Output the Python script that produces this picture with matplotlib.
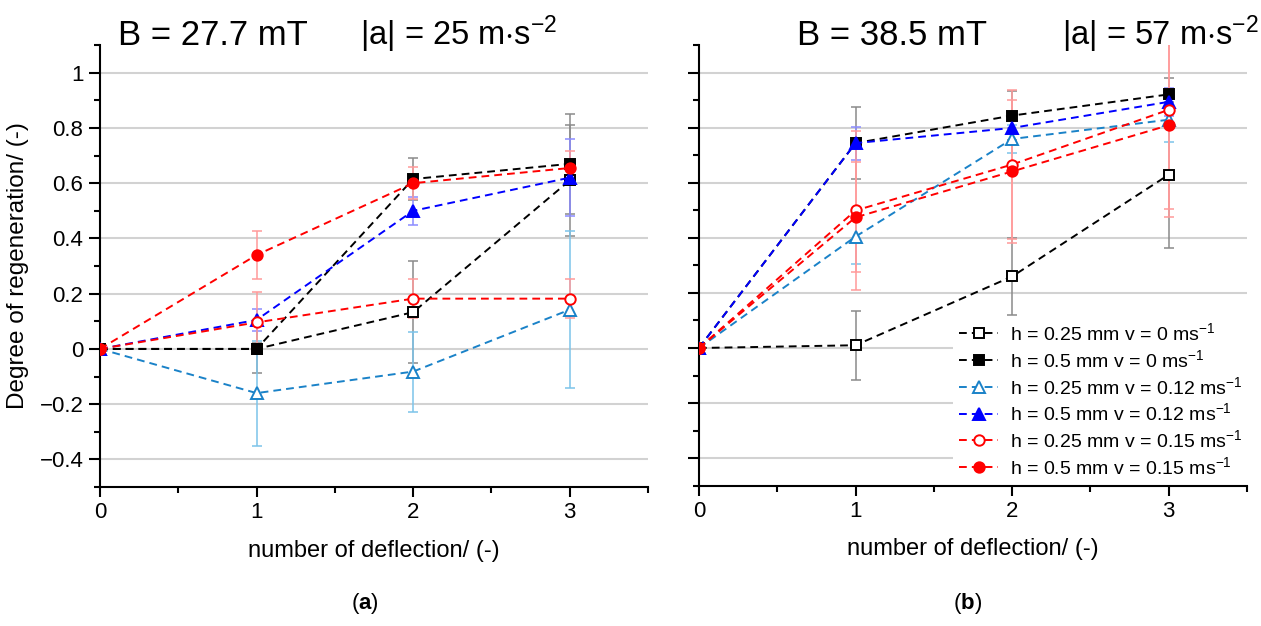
import matplotlib
matplotlib.use("Agg")
import matplotlib.pyplot as plt
from matplotlib.ticker import FixedLocator, MultipleLocator

plt.rcParams["font.family"] = ["Liberation Sans", "DejaVu Sans"]
plt.rcParams["mathtext.fontset"] = "custom"
plt.rcParams["mathtext.rm"] = "Liberation Sans"
plt.rcParams["mathtext.it"] = "Liberation Sans:italic"
plt.rcParams["mathtext.bf"] = "Liberation Sans:bold"

# number of deflection
x = [0, 1, 2, 3]

# panel (a): B = 27.7 mT
sq_open_a = [0, 0.0, 0.133, 0.61]
sq_open_a_err = [0, 0.087, 0.185, 0.2]
sq_fill_a = [0, 0.0, 0.615, 0.67]
sq_fill_a_err = [0, 0.02, 0.075, 0.18]
tri_open_a = [0, -0.16, -0.082, 0.142]
tri_open_a_err = [0, 0.19, 0.145, 0.285]
tri_fill_a = [0, 0.105, 0.50, 0.62]
tri_fill_a_err = [0, 0.04, 0.05, 0.14]
circ_open_a = [0, 0.096, 0.182, 0.182]
circ_open_a_err = [0, 0.11, 0.07, 0.07]
circ_fill_a = [0, 0.34, 0.60, 0.655]
circ_fill_a_err = [0, 0.086, 0.057, 0.06]

# panel (b): B = 38.5 mT
sq_open_b = [0, 0.01, 0.26, 0.63]
sq_open_b_err = [0, 0.125, 0.14, 0.265]
sq_fill_b = [0, 0.745, 0.845, 0.922]
sq_fill_b_err = [0, 0.13, 0.09, 0.06]
tri_open_b = [0, 0.405, 0.76, 0.83]
tri_open_b_err = [0, 0.1, 0.05, 0.08]
tri_fill_b = [0, 0.745, 0.80, 0.895]
tri_fill_b_err = [0, 0.06, 0.05, 0.05]
circ_open_b = [0, 0.50, 0.667, 0.866]
circ_open_b_err = [0, 0.29, 0.27, 0.36]
circ_fill_b = [0, 0.475, 0.642, 0.81]
circ_fill_b_err = [0, 0.2, 0.26, 0.335]

labels = [
    "h = 0.25 mm v = 0 ms$^{-1}$",
    "h = 0.5 mm v = 0 ms$^{-1}$",
    "h = 0.25 mm v = 0.12 ms$^{-1}$",
    "h = 0.5 mm v = 0.12 ms$^{-1}$",
    "h = 0.25 mm v = 0.15 ms$^{-1}$",
    "h = 0.5 mm v = 0.15 ms$^{-1}$",
]
yticks = [-0.4, -0.2, 0, 0.2, 0.4, 0.6, 0.8, 1.0]
ytick_labels = ["\u22120.4", "\u22120.2", "0", "0.2", "0.4", "0.6", "0.8", "1"]
xticks = [0, 1, 2, 3]

# style per series: colour, errorbar colour, marker, filled, size
styles = [
    ("black", "#8a8a8a", "s", False, 6.5),
    ("black", "#8a8a8a", "s", True, 6.5),
    ("#1a82c8", "#7cc4ea", "^", False, 8),
    ("#0000ff", "#8c8cff", "^", True, 8),
    ("#ff0000", "#ff9a9a", "o", False, 7.5),
    ("#ff0000", "#ff9a9a", "o", True, 7.5),
]

panel_a = [(sq_open_a, sq_open_a_err), (sq_fill_a, sq_fill_a_err),
           (tri_open_a, tri_open_a_err), (tri_fill_a, tri_fill_a_err),
           (circ_open_a, circ_open_a_err), (circ_fill_a, circ_fill_a_err)]
panel_b = [(sq_open_b, sq_open_b_err), (sq_fill_b, sq_fill_b_err),
           (tri_open_b, tri_open_b_err), (tri_fill_b, tri_fill_b_err),
           (circ_open_b, circ_open_b_err), (circ_fill_b, circ_fill_b_err)]

fig = plt.figure(figsize=(12.61, 6.26), dpi=100)
ax1 = fig.add_axes([0.0793, 0.222, 0.4346, 0.706])
ax2 = fig.add_axes([0.5543, 0.2244, 0.4346, 0.703])


def draw(ax, data, show_ylabels):
    handles = []
    for (y, e), (col, ecol, mk, filled, ms) in zip(data, styles):
        ax.errorbar(x, y, yerr=e, fmt="none", ecolor=ecol, elinewidth=1.1,
                    capsize=3.5, capthick=1.1, zorder=2)
        h, = ax.plot(x, y, linestyle=(0, (4, 2.6)), lw=1.4, color=col,
                     marker=mk, ms=ms, mew=1.4, mec=col,
                     mfc=col if filled else "white", zorder=3)
        handles.append(h)
    ax.set_xlim(0, 3.5)
    ax.set_ylim(-0.5, 1.1)
    ax.yaxis.set_major_locator(FixedLocator(yticks))
    ax.yaxis.set_minor_locator(FixedLocator([-0.5, -0.3, -0.1, 0.1, 0.3, 0.5, 0.7, 0.9, 1.1]))
    ax.xaxis.set_major_locator(FixedLocator(xticks))
    ax.xaxis.set_minor_locator(MultipleLocator(0.5))
    ax.set_xticklabels([str(t) for t in xticks], fontsize=16)
    if show_ylabels:
        ax.set_yticklabels(ytick_labels, fontsize=16)
    else:
        ax.set_yticklabels([])
    ax.grid(axis="y", which="major", color="#d2d2d2", lw=1.5)
    ax.set_axisbelow(True)
    for s in ["top", "right"]:
        ax.spines[s].set_visible(False)
    for s in ["left", "bottom"]:
        ax.spines[s].set_linewidth(1.5)
    ax.tick_params(which="major", length=8, width=1.5, direction="out", pad=4)
    ax.tick_params(which="minor", length=4, width=1.5, direction="out")
    ax.tick_params(axis="x", which="major", length=7)
    ax.set_xlabel("number of deflection/ (-)", fontsize=17, labelpad=12)
    return handles


draw(ax1, panel_a, True)
ax1.set_ylabel("Degree of regeneration/ (-)", fontsize=17.5)
ax1.yaxis.set_label_coords(-0.13, 0.5)
hb = draw(ax2, panel_b, False)

leg = ax2.legend(hb, labels, loc="lower right", bbox_to_anchor=(1.02, -0.018),
                 fontsize=14, frameon=True, framealpha=1, facecolor="white",
                 edgecolor="none", handlelength=2.0, handletextpad=0.6,
                 labelspacing=0.25, borderpad=0.3)
leg.get_frame().set_boxstyle("square", pad=0)

fig.text(118 / 1261, 1 - 45 / 626, "B = 27.7 mT", fontsize=25, ha="left", va="baseline")
fig.text(360 / 1261, 1 - 45 / 626, r"|a| = 25 m$\cdot$s$^{-2}$",
         fontsize=23.5, ha="left", va="baseline")
fig.text(797 / 1261, 1 - 45 / 626, "B = 38.5 mT", fontsize=25, ha="left", va="baseline")
fig.text(1062 / 1261, 1 - 45 / 626, r"|a| = 57 m$\cdot$s$^{-2}$",
         fontsize=23.5, ha="left", va="baseline")

fig.text(365 / 1261, 1 - 603 / 626, r"($\mathbf{a}$)", fontsize=16, ha="center", va="center")
fig.text(968 / 1261, 1 - 603 / 626, r"($\mathbf{b}$)", fontsize=16, ha="center", va="center")

fig.savefig("out.png", dpi=100)
